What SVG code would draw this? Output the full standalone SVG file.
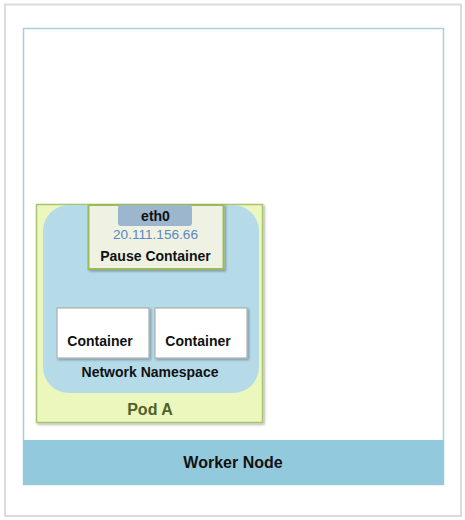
<svg xmlns="http://www.w3.org/2000/svg" width="465" height="520" viewBox="0 0 465 520">
<defs>
<filter id="sh" x="-10%" y="-10%" width="130%" height="130%">
<feDropShadow dx="1.5" dy="1.5" stdDeviation="1.2" flood-color="#000" flood-opacity="0.3"/>
</filter>
<style>
text{font-family:"Liberation Sans","Noto Sans",Arial,sans-serif;text-anchor:middle}
.b{font-weight:bold;font-size:14px;fill:#111}
.box{fill:#fff;stroke:#b0b0b0;stroke-width:1.2}
</style>
</defs>
<rect x="0" y="0" width="465" height="520" fill="#fff"/>
<g id="frame">
<rect x="5" y="4.5" width="456" height="511.5" fill="#fff" stroke="#dcdcdc" stroke-width="2"/>
</g>
<g id="worker-node">
<rect x="23.5" y="28.5" width="420" height="456" fill="#fff" stroke="#a9d0dc" stroke-width="1.5"/>
<rect x="23" y="440" width="421" height="45" fill="#93c9dc"/>
<text class="b" x="233" y="468" style="font-size:16px">Worker Node</text>
</g>
<g id="pod-a">
<rect x="36.5" y="204.5" width="226" height="218" fill="#ebf7bd" stroke="#a9c46c" stroke-width="1.5" filter="url(#sh)"/>
<text x="150" y="415" style="font-weight:bold;font-size:16px;fill:#4f6228">Pod A</text>
</g>
<g id="network-namespace">
<rect x="43" y="205" width="216" height="188" rx="26" ry="26" fill="#b5dbe9"/>
<text class="b" x="150" y="377">Network Namespace</text>
</g>
<g id="pause-container">
<rect x="88.5" y="205" width="135" height="64" fill="#eff1e3" stroke="#9bbb59" stroke-width="2" filter="url(#sh)"/>
<rect x="118" y="205" width="74" height="21" rx="3" fill="#9cb6cd"/>
<text class="b" x="155.5" y="221">eth0</text>
<text x="155.5" y="239" style="font-size:13.6px;fill:#5b88bf">20.111.156.66</text>
<text class="b" x="155.5" y="261">Pause Container</text>
</g>
<g id="container-1">
<rect class="box" x="57" y="308" width="92" height="50" filter="url(#sh)"/>
<text class="b" x="100" y="346">Container</text>
</g>
<g id="container-2">
<rect class="box" x="155" y="308" width="92" height="50" filter="url(#sh)"/>
<text class="b" x="198" y="346">Container</text>
</g>
<g id="connectors"></g>
</svg>
